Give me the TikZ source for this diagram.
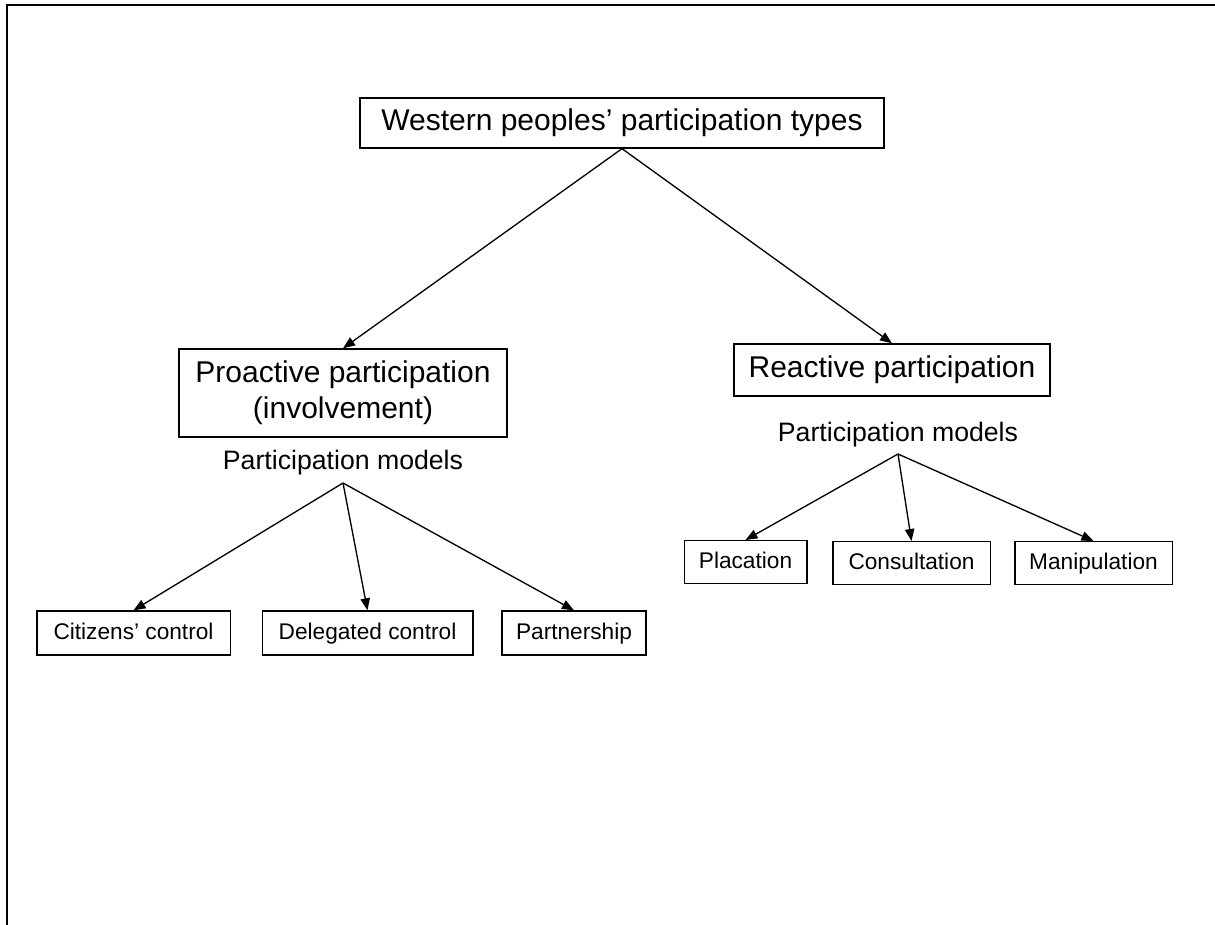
\documentclass[tikz,border=0pt]{standalone}
\usepackage{fontspec}
\setmainfont{Liberation Sans}
\usetikzlibrary{arrows.meta}

\begin{document}
\begin{tikzpicture}[x=0.75pt,y=-0.75pt,
  box/.style={draw=black, line width=1pt, inner sep=0pt, align=center},
  bigtext/.style={font=\fontsize{22.5}{27}\selectfont, text height=16.2pt, text depth=4.5pt},
  midtext/.style={font=\fontsize{20}{24}\selectfont},
  smalltext/.style={font=\fontsize{17}{20}\selectfont, text height=13pt, text depth=3pt},
  link/.style={line width=1pt, -{Triangle[length=9pt,width=7pt]}},
  frameline/.style={line width=2pt}]

  % page extent and the open frame (top and left edges only)
  \useasboundingbox (0,0) rectangle (1215,925);
  \draw[frameline] (7,925) -- (7,5) -- (1215,5);

  % root
  \node[box, bigtext, minimum width=393pt, minimum height=37.5pt] (root) at (622,123)
    {Western peoples' participation types};

  % two participation types
  \node[box, bigtext, minimum width=246pt, minimum height=66pt,
        text height=, text depth=] (pro) at (343,393)
    {Proactive participation\\(involvement)};
  \node[box, bigtext, minimum width=237pt, minimum height=39pt] (rea) at (892,370)
    {Reactive participation};

  % captions under each type
  \node[midtext, anchor=south, inner xsep=0pt, inner ysep=5.5pt] (pml) at (343,483)
    {Participation models};
  \node[midtext, anchor=south, inner xsep=0pt, inner ysep=5pt] (pmr) at (898,454)
    {Participation models};

  % proactive models
  \node[box, smalltext, minimum width=145pt, minimum height=33pt] (cit) at (133.5,633)
    {Citizens' control};
  \node[box, smalltext, minimum width=158pt, minimum height=33pt] (del) at (367.5,633)
    {Delegated control};
  \node[box, smalltext, minimum width=108pt, minimum height=33pt] (par) at (574,633)
    {Partnership};

  % reactive models
  \node[box, smalltext, minimum width=92pt, minimum height=32pt] (pla) at (745.5,562)
    {Placation};
  \node[box, smalltext, minimum width=118pt, minimum height=32pt] (con) at (911.5,563)
    {Consultation};
  \node[box, smalltext, minimum width=118pt, minimum height=32pt] (man) at (1093.5,563)
    {Manipulation};

  % connectors
  \draw[link] (root.south) -- (pro.north);
  \draw[link] (root.south) -- (rea.north);

  \draw[link] (pml.south) -- (cit.north);
  \draw[link] (pml.south) -- (del.north);
  \draw[link] (pml.south) -- (par.north);

  \draw[link] (pmr.south) -- (pla.north);
  \draw[link] (pmr.south) -- (con.north);
  \draw[link] (pmr.south) -- (man.north);
\end{tikzpicture}
\end{document}
